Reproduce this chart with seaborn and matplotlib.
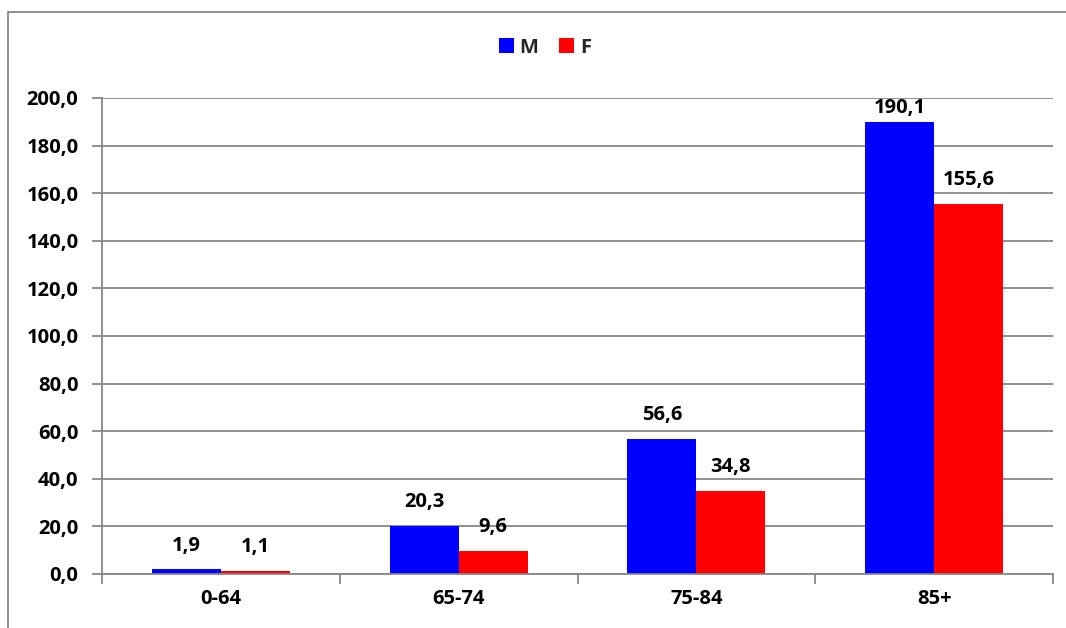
import matplotlib
matplotlib.use("Agg")
import matplotlib.pyplot as plt
from matplotlib.patches import Rectangle
from matplotlib.ticker import FuncFormatter, FixedLocator
import seaborn as sns
import pandas as pd

categories = ["0-64", "65-74", "75-84", "85+"]
values_m = [1.9, 20.3, 56.6, 190.1]
values_f = [1.1, 9.6, 34.8, 155.6]
series = ["M", "F"]
colors = {"M": "#0000FF", "F": "#FF0000"}

df = pd.DataFrame({
    "group": categories * 2,
    "sex": ["M"] * len(categories) + ["F"] * len(categories),
    "value": values_m + values_f,
})

sns.set_theme(style="white")
plt.rcParams["font.family"] = ["Open Sans", "DejaVu Sans"]
plt.rcParams["font.weight"] = "bold"

FS = 14.5
DPI = 100

fig = plt.figure(figsize=(10.66, 6.28), dpi=DPI)
ax = fig.add_axes([102 / 1066, 1 - 574 / 628, (1053 - 102) / 1066, (574 - 98) / 628])

sns.barplot(data=df, x="group", y="value", hue="sex", hue_order=series,
            palette=colors, width=0.58, saturation=1, linewidth=0,
            ax=ax, legend=True)

grid_c = "#878787"
ax.set_ylim(0, 200)
ax.set_xlim(-0.5, 3.5)
ax.set_yticks(range(0, 201, 20))
ax.yaxis.set_major_formatter(FuncFormatter(lambda v, p: f"{v:.1f}".replace(".", ",")))
ax.yaxis.grid(True, color=grid_c, linewidth=1.3)
ax.set_axisbelow(True)
ax.set_xlabel("")
ax.set_ylabel("")

for s in ["top", "right"]:
    ax.spines[s].set_visible(False)
for s in ["left", "bottom"]:
    ax.spines[s].set_color(grid_c)
    ax.spines[s].set_linewidth(1.3)

ax.tick_params(axis="y", which="major", length=7, width=1.3, color=grid_c,
               labelsize=FS, pad=10, left=True)
ax.tick_params(axis="x", which="major", length=0, labelsize=FS, pad=11)
ax.xaxis.set_minor_locator(FixedLocator([-0.5, 0.5, 1.5, 2.5, 3.5]))
ax.tick_params(axis="x", which="minor", length=7, width=1.3, color=grid_c, bottom=True)
for lbl in ax.get_xticklabels() + ax.get_yticklabels():
    lbl.set_fontweight("bold")
    lbl.set_color("black")

# value labels above the bars, kept inside the plot area
PAD = 10
labels = []
for cont, vals in zip(ax.containers, [values_m, values_f]):
    labels += ax.bar_label(cont, labels=[f"{v:.1f}".replace(".", ",") for v in vals],
                           padding=PAD, fontsize=FS, fontweight="bold", color="black")

leg = ax.legend(loc="center", bbox_to_anchor=(0.511, 0.924), bbox_transform=fig.transFigure,
                ncol=2, frameon=False, handlelength=0.75, handleheight=0.75,
                handletextpad=0.3, columnspacing=1.0, prop={"size": FS, "weight": "bold"})

fig.canvas.draw()
renderer = fig.canvas.get_renderer()
ax_top = ax.get_window_extent(renderer).y1
for t in labels:
    excess = t.get_window_extent(renderer).y1 - ax_top
    if excess > 0:
        dx, dy = t.xyann
        t.xyann = (dx, dy - excess * 72 / DPI)

fig.patches.append(Rectangle((8 / 1066, -0.1), 1.2, 1.1 - 12 / 628,
                             transform=fig.transFigure, fill=False,
                             edgecolor=grid_c, linewidth=1.3))

fig.savefig("out.png", dpi=DPI, facecolor="white")
